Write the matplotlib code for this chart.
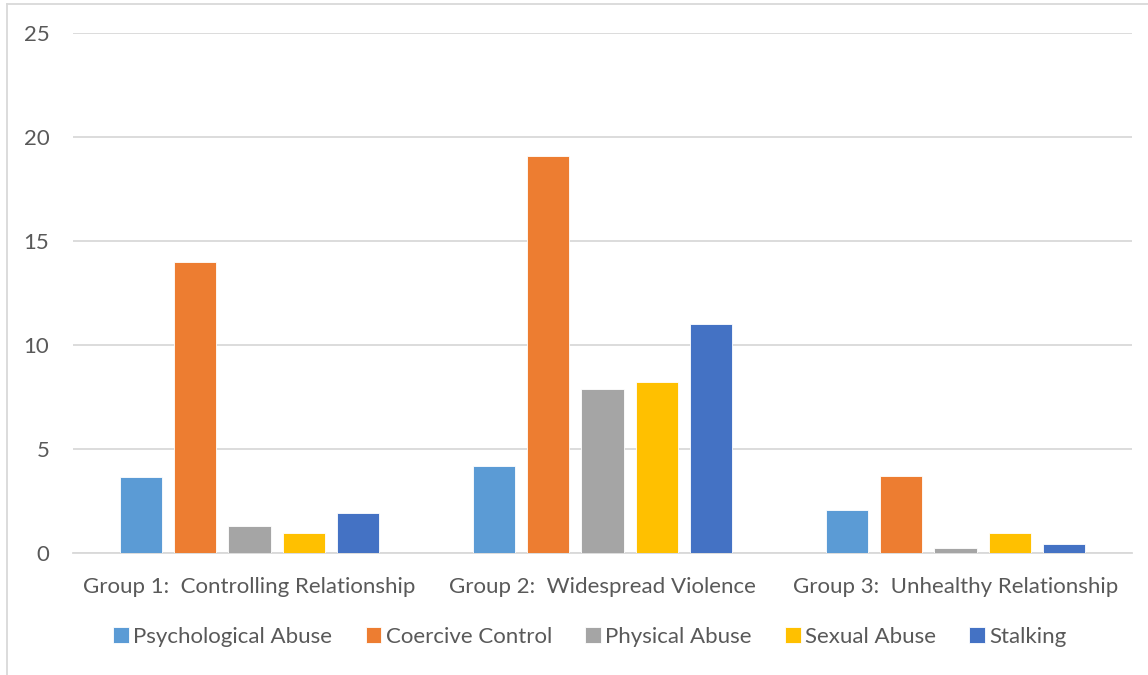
import numpy as np
import matplotlib.pyplot as plt
from matplotlib.lines import Line2D

plt.rcParams['font.family'] = ['Lato', 'DejaVu Sans']

groups = ['Group 1:  Controlling Relationship', 'Group 2:  Widespread Violence',
          'Group 3:  Unhealthy Relationship']
series = ['Psychological Abuse', 'Coercive Control', 'Physical Abuse', 'Sexual Abuse', 'Stalking']
psychological = [3.67, 4.2, 2.05]
coercive = [13.97, 19.1, 3.72]
physical = [1.3, 7.9, 0.22]
sexual = [0.95, 8.2, 0.95]
stalking = [1.9, 11.0, 0.42]
colors = ['#5B9BD5', '#ED7D31', '#A5A5A5', '#FFC000', '#4472C4']

values = [psychological, coercive, physical, sexual, stalking]
text_color = '#595959'
grid_color = '#D9D9D9'

fig = plt.figure(figsize=(11.48, 6.75), dpi=100)
ax = fig.add_axes([73 / 1148, 1 - 553 / 675, (1132 - 73) / 1148, (553 - 33) / 675])

x = np.arange(len(groups))
step = 0.153
width = 0.119
for i, (vals, col) in enumerate(zip(values, colors)):
    ax.bar(x + (i - 2) * step, vals, width, color=col, label=series[i], zorder=3,
           edgecolor='white', linewidth=0.6)

ax.set_xlim(-0.5, 2.5)
ax.set_ylim(0, 25)
ax.set_yticks([0, 5, 10, 15, 20, 25])
ax.set_xticks(x)
ax.set_xticklabels(groups)
ax.yaxis.grid(True, color=grid_color, linewidth=1.3, zorder=0)
ax.tick_params(axis='both', length=0, labelsize=16, colors=text_color)
ax.tick_params(axis='y', pad=17)
ax.tick_params(axis='x', pad=17)
for s in ['top', 'right', 'left']:
    ax.spines[s].set_visible(False)
ax.spines['bottom'].set_color(grid_color)
ax.spines['bottom'].set_linewidth(1.3)

leg = fig.legend(loc='center', bbox_to_anchor=(590 / 1148, 1 - 637 / 675), ncol=5,
                 frameon=False, fontsize=16, handlelength=0.7, handleheight=0.7,
                 handletextpad=0.2, columnspacing=1.5)
for t in leg.get_texts():
    t.set_color(text_color)

# chart frame (cut at the right and bottom edges)
fig.add_artist(Line2D([7 / 1148, 7 / 1148], [0, 1 - 4 / 675], color=grid_color,
                      linewidth=1.3, transform=fig.transFigure))
fig.add_artist(Line2D([7 / 1148, 1], [1 - 4 / 675, 1 - 4 / 675], color=grid_color,
                      linewidth=1.3, transform=fig.transFigure))

fig.savefig('out.png', dpi=100)
